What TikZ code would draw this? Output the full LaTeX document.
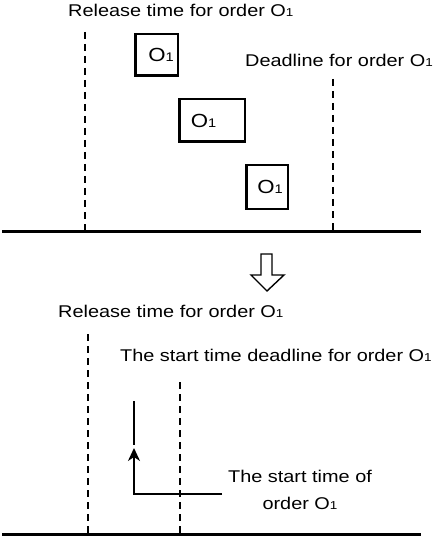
\documentclass[tikz,border=0pt]{standalone}
\usepackage{fontspec}
\setmainfont[FakeStretch=1.17]{Liberation Sans}
\usetikzlibrary{arrows.meta}
\newcommand\Osub[1]{O{\fontsize{#1}{#1}\selectfont 1}}
\begin{document}
\begin{tikzpicture}[x=1pt,y=-1pt,
  lbl/.style={font=\fontsize{17}{20}\selectfont, inner sep=0pt, anchor=base west},
  dashv/.style={line width=2pt, dash pattern=on 7pt off 5pt},
  obox/.style={draw, line width=2.5pt, inner sep=0pt, font=\fontsize{19}{22}\selectfont},
  axis/.style={line width=3pt},
  conn/.style={line width=2pt, -{Stealth[length=13pt,width=12pt,inset=4pt]}},
  plain/.style={line width=2pt},
  hollow/.style={line width=1.4pt, line join=miter, fill=white},
]
\useasboundingbox (0,0) rectangle (432,537);

% ---------- top part ----------
\node[lbl] (rel1) at (68,17) {Release time for order \Osub{11.5}};
\node[lbl] (dead1) at (245,67) {Deadline for order \Osub{11.5}};

\coordinate (ax1l) at (2,231.5);
\coordinate (ax1r) at (421,231.5);
\draw[axis] (ax1l) -- (ax1r);

\coordinate (d1t) at (85,32);
\coordinate (d1b) at (85,230);
\draw[dashv] (d1t) -- (d1b);
\coordinate (d2t) at (333,79);
\coordinate (d2b) at (333,230);
\draw[dashv] (d2t) -- (d2b);

\node[obox, minimum width=42.5pt, minimum height=41.5pt] (b1) at (156.5,55) {\hspace*{9pt}\Osub{12.5}};
\node[obox, minimum width=65.5pt, minimum height=42.5pt] (b2) at (212,120.5) {\Osub{12.5}\hspace*{17pt}};
\node[obox, minimum width=41.5pt, minimum height=43.5pt] (b3) at (267,187) {\hspace*{6pt}\Osub{12.5}};

% ---------- transition arrow ----------
\draw[hollow] (261,254) -- (272,254) -- (272,275) -- (284,275) -- (267,291) -- (251,275) -- (261,275) -- cycle;

% ---------- bottom part ----------
\node[lbl] (rel2) at (58,317) {Release time for order \Osub{11.5}};
\node[lbl] (sdl) at (120,361) {The start time deadline for order \Osub{11.5}};
\node[font=\fontsize{17}{27}\selectfont, inner sep=0pt, align=center] (st) at (300,489.5) {The start time of\\order \Osub{11.5}};

\coordinate (ax2l) at (2,534);
\coordinate (ax2r) at (421,534);
\draw[axis] (ax2l) -- (ax2r);

\coordinate (d3t) at (88,334);
\coordinate (d3b) at (88,533);
\draw[dashv] (d3t) -- (d3b);
\coordinate (d4t) at (180,382);
\coordinate (d4b) at (180,533);
\draw[dashv] (d4t) -- (d4b);

\coordinate (segt) at (134,401);
\coordinate (segb) at (134,445);
\draw[plain] (segt) -- (segb);

\coordinate (elb) at (222,494);
\coordinate (tip) at (134,448);
\draw[conn] (elb) -| (tip);
\end{tikzpicture}
\end{document}
